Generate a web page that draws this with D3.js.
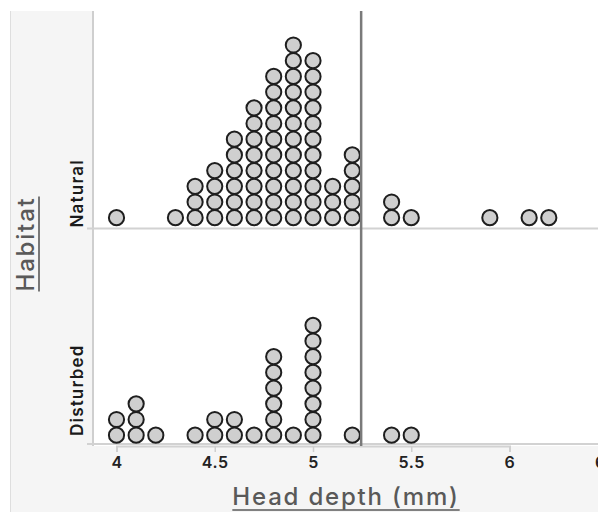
<!DOCTYPE html>
<html>
<head>
<meta charset="utf-8">
<script src="https://cdn.jsdelivr.net/npm/d3@7"></script>
<style>
  html, body { margin: 0; padding: 0; background: #fff; }
  svg { display: block; font-family: Inter, "Open Sans", sans-serif; }
</style>
</head>
<body>
<svg id="chart" width="598" height="512"></svg>
<script>
(() => {
	// head depth bins (mm) and dot counts per habitat
	const habitats = ["Natural", "Disturbed"];
	const naturalBins = [4.0, 4.3, 4.4, 4.5, 4.6, 4.7, 4.8, 4.9, 5.0, 5.1, 5.2, 5.4, 5.5, 5.9, 6.1, 6.2];
	const naturalCounts = [1, 1, 3, 4, 6, 8, 10, 12, 11, 3, 5, 2, 1, 1, 1, 1];
	const disturbedBins = [4.0, 4.1, 4.2, 4.4, 4.5, 4.6, 4.7, 4.8, 4.9, 5.0, 5.2, 5.4, 5.5];
	const disturbedCounts = [2, 3, 1, 1, 2, 2, 1, 6, 1, 8, 1, 1, 1];
	const xTicks = [4, 4.5, 5, 5.5, 6, 6.5];
	const refLine = 5.245;

	const W = 598, H = 512;
	const plot = { left: 93, top: 11, right: 598, bottom: 446 };

	const svg = d3.select("#chart");

	const x = d3.scaleLinear().domain([4, 6]).range([116.5, 509.5]);
	const y = d3.scaleBand().domain(habitats).range([plot.top, plot.bottom]);
	const stack = d3.scaleLinear().domain([0, 1]).range([0, 15.7]);

	// background panel + plot area
	svg.append("rect").attr("x", 10).attr("y", 11).attr("width", W - 10).attr("height", H - 11)
		.attr("fill", "#f5f5f5");
	svg.append("line").attr("x1", 10.5).attr("x2", 10.5).attr("y1", 11).attr("y2", H)
		.attr("stroke", "#dedede").attr("stroke-width", 1);
	svg.append("rect").attr("x", plot.left).attr("y", plot.top)
		.attr("width", plot.right - plot.left).attr("height", plot.bottom - plot.top)
		.attr("fill", "#fff");
	svg.append("line").attr("x1", plot.left).attr("x2", plot.left).attr("y1", plot.top).attr("y2", plot.bottom)
		.attr("stroke", "#cfcfcf").attr("stroke-width", 2);

	// category baselines and ticks
	habitats.forEach(h => {
		const base = y(h) + y.bandwidth() - (h === "Disturbed" ? 2 : 0);
		svg.append("line").attr("x1", 87).attr("x2", plot.right)
			.attr("y1", base).attr("y2", base)
			.attr("stroke", "#d2d2d2").attr("stroke-width", 2);
	});

	// x axis
	const xAxis = svg.append("g").attr("transform", `translate(0, ${plot.bottom})`)
		.call(d3.axisBottom(x).tickValues(xTicks).tickFormat(d3.format("")).tickSize(6).tickPadding(5));
	xAxis.select(".domain").attr("stroke", "#d2d2d2").attr("stroke-width", 2);
	xAxis.selectAll(".tick line").attr("stroke", "#cfcfcf").attr("stroke-width", 1.5);
	xAxis.selectAll(".tick text")
		.attr("font-family", "Inter, sans-serif").attr("font-size", "16px").attr("font-weight", 600)
		.attr("letter-spacing", "0.6px").attr("fill", "#222");

	// dots
	const dots = [];
	naturalBins.forEach((b, i) => d3.range(naturalCounts[i]).forEach(k => dots.push({ h: "Natural", v: b, k })));
	disturbedBins.forEach((b, i) => d3.range(disturbedCounts[i]).forEach(k => dots.push({ h: "Disturbed", v: b, k })));

	svg.append("g").selectAll("circle").data(dots).join("circle")
		.attr("cx", d => x(d.v))
		.attr("cy", d => y(d.h) + y.bandwidth() - 10.8 - stack(d.k))
		.attr("r", 7.6)
		.attr("fill", "#cfcfcf")
		.attr("stroke", "#1e1e1e")
		.attr("stroke-width", 2);

	// reference line
	svg.append("line").attr("x1", x(refLine)).attr("x2", x(refLine))
		.attr("y1", plot.top).attr("y2", plot.bottom)
		.attr("stroke", "#7a7a7a").attr("stroke-width", 2.5);

	// category labels
	habitats.forEach(h => {
		const base = y(h) + y.bandwidth() - (h === "Disturbed" ? 10 : 1);
		svg.append("text")
			.attr("transform", `translate(83, ${base}) rotate(-90)`)
			.attr("font-size", "17px").attr("font-weight", 600).attr("letter-spacing", "1.2px")
			.attr("fill", "#1a1a1a")
			.text(h);
	});

	function underlined(g, txt, size, spacing) {
		const t = g.append("text").attr("text-anchor", "middle")
			.attr("font-size", size).attr("font-weight", 500).attr("letter-spacing", spacing)
			.attr("fill", "#595959").text(txt);
		const len = t.node().getBBox().width;
		g.append("line").attr("x1", -len / 2).attr("x2", len / 2).attr("y1", 5).attr("y2", 5)
			.attr("stroke", "#595959").attr("stroke-width", 1.6);
	}

	// axis titles
	underlined(svg.append("g").attr("transform", "translate(346, 505)"), "Head depth (mm)", "24px", "1.8px");
	underlined(svg.append("g").attr("transform", "translate(34, 244) rotate(-90)"), "Habitat", "24px", "1.8px");
})();
</script>
</body>
</html>
